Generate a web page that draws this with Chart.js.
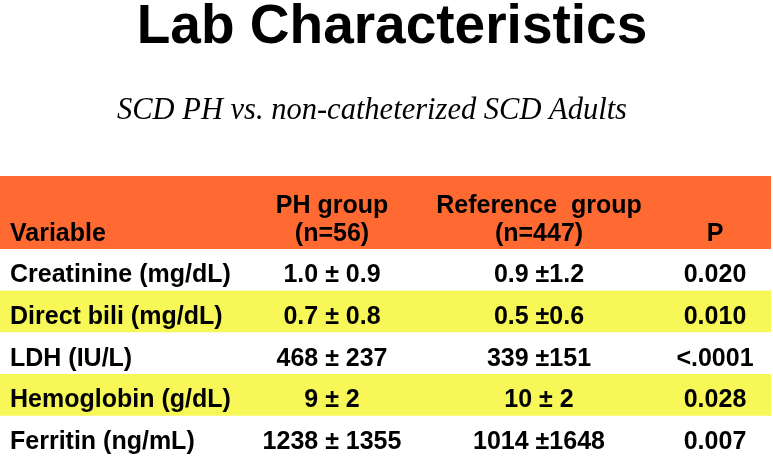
<!DOCTYPE html>
<html>
<head>
<meta charset="utf-8">
<title>Lab Characteristics</title>
<script src="https://cdn.jsdelivr.net/npm/chart.js@4.4.1/dist/chart.umd.min.js"></script>
<style>
    html, body { margin: 0; padding: 0; background: #fff; }
    #wrap { width: 773px; height: 458px; }
</style>
</head>
<body>
<div id="wrap"><canvas id="lab-chart" width="773" height="458"></canvas></div>
<script>
// Table content
const variables = ['Creatinine (mg/dL)', 'Direct bili (mg/dL)', 'LDH (IU/L)', 'Hemoglobin (g/dL)', 'Ferritin (ng/mL)'];
const phGroup = ['1.0 ± 0.9', '0.7 ± 0.8', '468 ± 237', '9 ± 2', '1238 ± 1355'];
const referenceGroup = ['0.9 ±1.2', '0.5 ±0.6', '339 ±151', '10 ± 2', '1014 ±1648'];
const pValues = ['0.020', '0.010', '<.0001', '0.028', '0.007'];
const columnHeaders = [['', 'Variable'], ['PH group', '(n=56)'], ['Reference  group', '(n=447)'], ['', 'P']];
const titleText = 'Lab Characteristics';
const subtitleText = 'SCD PH vs. non-catheterized SCD Adults';

// Layout / style
const TABLE_WIDTH = 771;      // x scale runs 0..771, one unit per pixel
const HEADER_HEIGHT = 73;
const ORANGE = '#FF6A33';
const YELLOW = '#F7F758';
const SANS = '"Liberation Sans", Arial, Helvetica, sans-serif';
const SERIF = '"Liberation Serif", "Times New Roman", serif';
const rowShades = ['#FFFFFF', YELLOW, '#FFFFFF', YELLOW, '#FFFFFF'];

// Column anchors in x scale units
const columns = [
    { x: 10, align: 'left' },
    { x: 332, align: 'center' },
    { x: 539, align: 'center' },
    { x: 715, align: 'center' }
];

// Draws the title block, the orange header band and the cell texts
const tablePlugin = {
    id: 'tableText',
    beforeDraw(chart) {
        const { ctx, chartArea } = chart;
        const x = chart.scales.x;
        const left = x.getPixelForValue(0);
        const right = x.getPixelForValue(TABLE_WIDTH);
        const top = chartArea.top - HEADER_HEIGHT;

        ctx.save();
        ctx.fillStyle = '#FFFFFF';
        ctx.fillRect(0, 0, chart.width, chart.height);

        ctx.fillStyle = ORANGE;
        ctx.fillRect(left, top, right - left, HEADER_HEIGHT);

        ctx.fillStyle = '#000000';
        ctx.textBaseline = 'alphabetic';
        ctx.textAlign = 'center';
        ctx.font = 'bold 55px ' + SANS;
        ctx.fillText(titleText, 392, 43);

        ctx.font = 'italic 30.5px ' + SERIF;
        ctx.fillText(subtitleText, 372, 119);

        // Column headers
        ctx.font = 'bold 25px ' + SANS;
        columnHeaders.forEach((lines, c) => {
            ctx.textAlign = columns[c].align;
            const cx = x.getPixelForValue(columns[c].x);
            if (lines[0]) ctx.fillText(lines[0], cx, top + 37);
            if (lines[1]) ctx.fillText(lines[1], cx, top + 65);
        });
        ctx.restore();
    },
    afterDatasetsDraw(chart) {
        const { ctx } = chart;
        const x = chart.scales.x;
        const y = chart.scales.y;
        ctx.save();
        ctx.fillStyle = '#000000';
        ctx.font = 'bold 25px ' + SANS;
        ctx.textBaseline = 'alphabetic';
        [variables, phGroup, referenceGroup, pValues].forEach((col, c) => {
            ctx.textAlign = columns[c].align;
            col.forEach((txt, i) => {
                ctx.fillText(txt, x.getPixelForValue(columns[c].x), y.getPixelForValue(i) + 12);
            });
        });
        ctx.restore();
    }
};

const ctx = document.getElementById('lab-chart').getContext('2d');
const chart = new Chart(ctx, {
    type: 'bar',
    data: {
        labels: variables,
        datasets: [
            {
                label: 'rows',
                data: variables.map(() => [0, TABLE_WIDTH]),
                backgroundColor: rowShades,
                borderWidth: 0,
                barPercentage: 1,
                categoryPercentage: 1
            }
        ]
    },
    options: {
        indexAxis: 'y',
        responsive: false,
        animation: false,
        devicePixelRatio: 1,
        layout: {
            padding: { top: 249, bottom: -3.5, left: 0, right: 2 }
        },
        plugins: {
            legend: { display: false },
            tooltip: { enabled: false },
            title: { display: false }
        },
        scales: {
            x: {
                type: 'linear',
                min: 0,
                max: TABLE_WIDTH,
                display: false
            },
            y: {
                type: 'category',
                display: false
            }
        }
    },
    plugins: [tablePlugin]
});
</script>
</body>
</html>
